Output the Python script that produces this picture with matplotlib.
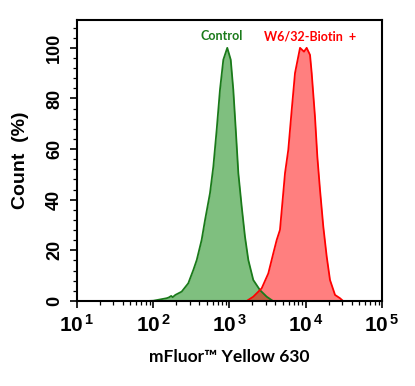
import numpy as np
import matplotlib
matplotlib.use('Agg')
import matplotlib.pyplot as plt
from matplotlib.ticker import FixedLocator, LogLocator, MultipleLocator, NullFormatter

plt.rcParams['mathtext.fontset'] = 'custom'
plt.rcParams['mathtext.rm'] = 'Liberation Sans:bold'
plt.rcParams['mathtext.bf'] = 'Liberation Sans:bold'
plt.rcParams['mathtext.it'] = 'Liberation Sans:bold'

# control histogram (intensity, % of max)
control_x = [67, 81, 100, 150, 160, 172, 180, 195, 236, 288, 336, 372, 431, 478, 555,
             614, 679, 750, 830, 935, 1038, 1122, 1216, 1306, 1445, 1596, 1766,
             2051, 2512, 3076, 3715]
control_y = [0, 0, 0.1, 1.1, 1.4, 2.0, 1.5, 2.4, 3.7, 7.0, 12.3, 16.2, 24.1, 32.0, 42.6,
             53.1, 67.6, 83.4, 95.3, 100, 95.3, 83.4, 66.3, 50.5, 37.3, 25.4, 16.2,
             8.3, 4.3, 1.7, 0]

# W6/32-Biotin stained histogram
stained_x = [1679, 2051, 2642, 3228, 3758, 4159, 4592, 4977, 5346, 5902, 6546, 7228,
             8414, 9484, 10280, 11376, 11967, 13213, 14191, 15382, 16982, 18836,
             20797, 24210, 28119, 30903]
stained_y = [0, 1.7, 5.0, 10.9, 18.9, 24.1, 28.1, 39.9, 50.5, 59.7, 75.5, 90,
             100, 98.5, 100, 97.2, 90, 72.8, 57, 43.9, 29.4, 17.5,
             8.3, 2.4, 1.1, 0]

x_ticks = [1e1, 1e2, 1e3, 1e4, 1e5]
x_labels = [r'$10^{\,1}$', r'$10^{\,2}$', r'$10^{\,3}$', r'$10^{\,4}$', r'$10^{\,5}$']
y_ticks = [0, 20, 40, 60, 80, 100]

fig = plt.figure(figsize=(4.15, 3.86), dpi=100)
ax = fig.add_axes([0.1855, 0.2202, 0.735, 0.728])

ax.fill_between(control_x, control_y, color='#008000', alpha=0.5, linewidth=0)
ax.plot(control_x, control_y, color='#1a7a1a', linewidth=1.3)
ax.fill_between(stained_x, stained_y, color='#ff0000', alpha=0.5, linewidth=0)
ax.plot(stained_x, stained_y, color='#ff0000', linewidth=1.3)

ax.set_xscale('log')
ax.set_xlim(1e1, 1e5)
ax.set_ylim(0, 111)

ax.xaxis.set_major_locator(FixedLocator(x_ticks))
ax.set_xticklabels(x_labels, fontsize=15)
ax.xaxis.set_minor_locator(LogLocator(base=10, subs=np.arange(2, 10)))
ax.xaxis.set_minor_formatter(NullFormatter())

ax.set_yticks(y_ticks)
ax.set_yticklabels([str(v) for v in y_ticks], fontsize=13, fontweight='bold',
                   family='Liberation Sans', rotation=90, va='center')
ax.yaxis.set_minor_locator(MultipleLocator(4))

ax.tick_params(which='major', direction='out', length=5, width=1.2, top=False, right=False)
ax.tick_params(which='minor', direction='out', length=3, width=0.9, top=False, right=False)
ax.tick_params(axis='x', pad=4)
ax.tick_params(axis='y', pad=5)

for s in ax.spines.values():
    s.set_linewidth(1.5)

ax.set_ylabel('Count  (%)', fontsize=14, fontweight='bold', family='Liberation Sans', labelpad=12)
ax.set_xlabel('mFluor™ Yellow 630', fontsize=12.5, fontweight='bold', family='Lato', labelpad=10)

ax.text(780, 104.5, 'Control', color='#1a7a1a', fontsize=9, fontweight='bold',
        family='Lato', ha='center', va='center')
ax.text(2800, 104.5, 'W6/32-Biotin  +', color='#ff0000', fontsize=9, fontweight='bold',
        family='Lato', ha='left', va='center')

fig.savefig('out.png', dpi=100)
